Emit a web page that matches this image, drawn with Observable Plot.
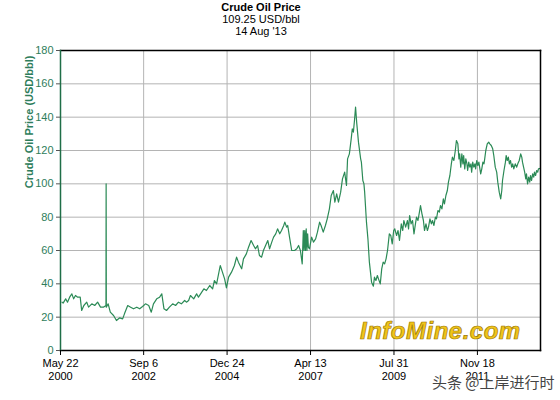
<!DOCTYPE html>
<html>
<head>
<meta charset="utf-8">
<script src="https://cdn.jsdelivr.net/npm/d3@7"></script>
<script src="https://cdn.jsdelivr.net/npm/@observablehq/plot@0.6"></script>
<style>
  body { margin: 0; background: #fff; font-family: "Liberation Sans", Arial, sans-serif; }
  #wrap { position: relative; width: 560px; height: 400px; overflow: hidden; }
  #hdr { width: 522px; text-align: center; font-size: 11px; line-height: 12px; padding-top: 1px; color: #000; }
  #hdr .t { font-weight: bold; }
  #wm { position: absolute; left: 360px; top: 317px; font: italic bold 24px "Liberation Sans", Arial, sans-serif;
        color: #f0c419; -webkit-text-stroke: 0.7px #9c7800; letter-spacing: 0.5px; }
  #tt { position: absolute; left: 432px; top: 371px; font: 15px "Noto Sans CJK SC", sans-serif; color: #444;
        text-shadow: 0 0 2px #fff; }
</style>
</head>
<body>
<div id="wrap">
  <div id="hdr"></div>
  <div id="chart"></div>
  <div id="wm"></div>
  <div id="tt"></div>
</div>
<script>
// ---- data ----
const chartTitle = "Crude Oil Price";
const lastPrice = "109.25 USD/bbl";
const lastDate = "14 Aug '13";
const yTitle = "Crude Oil Price (USD/bbl)";
const watermark = "InfoMine.com";
const credit = "头条 @上岸进行时";

const xStart = [2000, 4, 22];
const xEnd = [2013, 7, 14];
const xTickDays = [[2000, 4, 22], [2002, 8, 6], [2004, 11, 24], [2007, 3, 13], [2009, 6, 31], [2011, 10, 18]];
const xTickLabels = ["May 22\n2000", "Sep 6\n2002", "Dec 24\n2004", "Apr 13\n2007", "Jul 31\n2009", "Nov 18\n2011"];
const yTicks = [0, 20, 40, 60, 80, 100, 120, 140, 160, 180];

// [fractional year, USD/bbl]
const oilPoints = [
  [2000.43, 29], [2000.46, 28.4], [2000.53, 31], [2000.58, 29], [2000.64, 32], [2000.70, 34], [2000.75, 31],
  [2000.80, 33], [2000.86, 32], [2000.93, 32], [2000.97, 24],
  [2001.03, 27], [2001.11, 29], [2001.16, 26], [2001.25, 28], [2001.33, 27], [2001.41, 29], [2001.49, 26],
  [2001.57, 26], [2001.64, 27], [2001.645, 100], [2001.65, 26], [2001.70, 28], [2001.76, 23], [2001.85, 21], [2001.93, 18],
  [2002.02, 19.6], [2002.10, 19], [2002.15, 22], [2002.24, 27], [2002.32, 26], [2002.40, 25], [2002.49, 26],
  [2002.57, 25], [2002.65, 26.4], [2002.73, 28], [2002.82, 27], [2002.89, 23], [2002.95, 28],
  [2003.04, 31], [2003.12, 32], [2003.18, 34], [2003.24, 25], [2003.31, 24], [2003.39, 26], [2003.48, 28],
  [2003.56, 27], [2003.64, 29], [2003.72, 28], [2003.81, 30], [2003.86, 29], [2003.92, 30], [2003.97, 33],
  [2004.06, 31], [2004.14, 34], [2004.19, 32], [2004.25, 34], [2004.34, 37], [2004.41, 36], [2004.50, 39],
  [2004.58, 37], [2004.63, 42], [2004.69, 40], [2004.79, 51], [2004.85, 47], [2004.91, 43], [2004.96, 37.6],
  [2005.02, 44], [2005.10, 47], [2005.18, 51], [2005.24, 56], [2005.29, 53], [2005.38, 49], [2005.43, 55],
  [2005.51, 58], [2005.57, 62], [2005.64, 66], [2005.71, 63], [2005.76, 61], [2005.82, 63], [2005.87, 57],
  [2005.93, 56], [2005.98, 60],
  [2006.04, 63], [2006.10, 66], [2006.15, 61], [2006.21, 65], [2006.26, 68], [2006.32, 70], [2006.37, 73],
  [2006.43, 70], [2006.48, 72], [2006.54, 75], [2006.57, 77], [2006.62, 74], [2006.65, 75], [2006.70, 68],
  [2006.76, 60], [2006.84, 60], [2006.90, 61], [2006.95, 63],
  [2007.00, 60], [2007.05, 52], [2007.08, 72], [2007.10, 60], [2007.12, 72], [2007.14, 60], [2007.16, 73],
  [2007.18, 60], [2007.20, 70], [2007.22, 62], [2007.25, 61], [2007.31, 68], [2007.36, 65], [2007.42, 67],
  [2007.47, 71], [2007.53, 77], [2007.57, 75], [2007.63, 71], [2007.69, 75], [2007.74, 79], [2007.80, 85],
  [2007.85, 93], [2007.91, 96], [2007.95, 89],
  [2008.00, 94], [2008.05, 89], [2008.11, 95], [2008.16, 103], [2008.22, 107], [2008.27, 99], [2008.30, 115],
  [2008.35, 118], [2008.40, 127], [2008.43, 133], [2008.46, 131], [2008.49, 138], [2008.52, 146], [2008.55, 137],
  [2008.60, 125], [2008.66, 115], [2008.68, 113], [2008.72, 102], [2008.75, 100], [2008.77, 95], [2008.82, 77],
  [2008.86, 67], [2008.90, 53], [2008.93, 47], [2008.96, 41],
  [2009.01, 38.6], [2009.04, 44], [2009.08, 42], [2009.12, 45], [2009.15, 43], [2009.20, 40], [2009.24, 49],
  [2009.28, 53], [2009.32, 52], [2009.36, 55], [2009.40, 60], [2009.45, 70], [2009.49, 69], [2009.53, 64],
  [2009.57, 72], [2009.60, 73], [2009.65, 69], [2009.69, 72], [2009.73, 66], [2009.78, 76], [2009.82, 72],
  [2009.85, 78], [2009.90, 74], [2009.95, 78], [2009.98, 73],
  [2010.01, 81], [2010.05, 76], [2010.09, 78], [2010.13, 70], [2010.17, 76], [2010.20, 80], [2010.24, 78],
  [2010.28, 83], [2010.31, 87], [2010.35, 82], [2010.39, 78], [2010.42, 72], [2010.46, 76], [2010.50, 72],
  [2010.53, 74], [2010.57, 79], [2010.61, 76], [2010.64, 78], [2010.68, 75], [2010.72, 80], [2010.75, 79],
  [2010.79, 84], [2010.83, 83], [2010.86, 87], [2010.90, 85], [2010.94, 91], [2010.97, 88],
  [2011.01, 93], [2011.05, 96], [2011.08, 101], [2011.12, 105], [2011.16, 112], [2011.19, 116], [2011.23, 114],
  [2011.27, 120], [2011.30, 126], [2011.34, 124], [2011.37, 115], [2011.39, 118], [2011.42, 110], [2011.45, 118],
  [2011.48, 112], [2011.50, 117], [2011.53, 109], [2011.56, 115], [2011.59, 112], [2011.61, 108], [2011.64, 113],
  [2011.67, 110], [2011.70, 112], [2011.72, 107], [2011.75, 113], [2011.78, 110], [2011.81, 112], [2011.83, 109],
  [2011.86, 114], [2011.89, 111], [2011.92, 113], [2011.94, 110], [2011.97, 106],
  [2012.00, 109], [2012.03, 113], [2012.06, 112], [2012.08, 115], [2012.11, 120], [2012.15, 124], [2012.19, 125],
  [2012.22, 124], [2012.26, 123], [2012.30, 121], [2012.33, 117], [2012.37, 110], [2012.41, 107], [2012.44, 101],
  [2012.48, 95], [2012.52, 91], [2012.55, 96], [2012.57, 102], [2012.61, 108], [2012.65, 113], [2012.67, 117],
  [2012.70, 114], [2012.73, 116], [2012.76, 112], [2012.79, 114], [2012.82, 110], [2012.85, 112], [2012.88, 109],
  [2012.92, 112], [2012.96, 110], [2012.99, 112],
  [2013.03, 114], [2013.07, 118], [2013.10, 116], [2013.12, 113], [2013.15, 110], [2013.18, 107], [2013.21, 103],
  [2013.23, 106], [2013.26, 100], [2013.29, 104], [2013.32, 101], [2013.34, 105], [2013.37, 102], [2013.40, 106],
  [2013.43, 104], [2013.45, 107], [2013.48, 105], [2013.51, 108], [2013.54, 107], [2013.56, 109], [2013.61, 109.25]
];

// ---- build ----
const utc = a => new Date(Date.UTC(a[0], a[1], a[2]));
function fracYearToDate(f) {
  const y = Math.floor(f);
  const s = Date.UTC(y, 0, 1), e = Date.UTC(y + 1, 0, 1);
  return new Date(s + (f - y) * (e - s));
}
const data = oilPoints.map(([f, p]) => ({date: fracYearToDate(f), price: p}));
const xTicks = xTickDays.map(utc);
const labelMap = new Map(xTicks.map((d, i) => [+d, xTickLabels[i]]));

document.getElementById("hdr").innerHTML =
  `<div class="t">${chartTitle}</div><div>${lastPrice}</div><div>${lastDate}</div>`;
document.getElementById("wm").textContent = watermark;
document.getElementById("tt").textContent = credit;

const green = "#2e7d5b";
const gridColor = "#b4b4b4";

const chart = Plot.plot({
  width: 560,
  height: 363,
  marginLeft: 60,
  marginRight: 20,
  marginTop: 13,
  marginBottom: 50,
  style: {fontFamily: "'Liberation Sans', Arial, sans-serif", fontSize: "11px", background: "white", overflow: "visible"},
  x: {type: "utc", domain: [utc(xStart), utc(xEnd)]},
  y: {domain: [0, 180]},
  marks: [
    Plot.gridY(yTicks, {stroke: gridColor, strokeOpacity: 1}),
    Plot.gridX(xTicks, {stroke: gridColor, strokeOpacity: 1}),
    Plot.lineY(data, {x: "date", y: "price", stroke: "#2b8a56", strokeWidth: 1.2}),
    Plot.frame({anchor: "top", stroke: "#000", strokeWidth: 1.5}),
    Plot.frame({anchor: "right", stroke: "#000", strokeWidth: 1.5}),
    Plot.frame({anchor: "bottom", stroke: "#000", strokeWidth: 1.5}),
    Plot.frame({anchor: "left", stroke: "#1f6e47", strokeWidth: 1.5}),
    Plot.axisY(yTicks, {tickSize: 4, tickPadding: 3, stroke: "#555", fill: green, label: null}),
    Plot.axisX(xTicks, {tickSize: 5, tickPadding: 3, stroke: "#000", fill: "#000", label: null,
      tickFormat: d => labelMap.get(+d), lineHeight: 1.15}),
    Plot.text([yTitle], {frameAnchor: "top-left", dx: -35, dy: 5, rotate: -90, textAnchor: "end",
      fill: green, fontWeight: "bold", fontSize: 11})
  ]
});
document.getElementById("chart").appendChild(chart);
</script>
</body>
</html>
